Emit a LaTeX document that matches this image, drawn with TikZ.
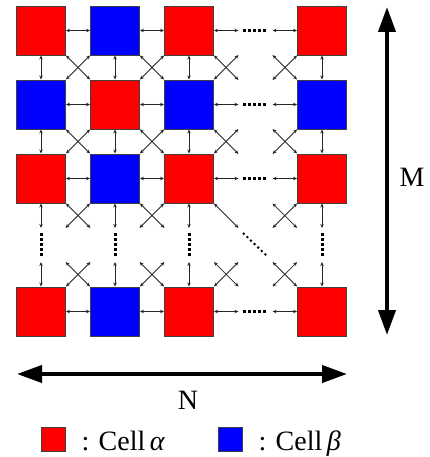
\documentclass[tikz,border=0pt]{standalone}
\usepackage{fontspec}
\setmainfont{Liberation Serif}
\usetikzlibrary{arrows.meta}
\begin{document}
\begin{tikzpicture}[x=1pt,y=-1pt,
 cell/.style={draw=black!75,line width=0.9pt,minimum size=49pt,inner sep=0pt},
 ra/.style={cell,fill=red}, bl/.style={cell,fill=blue},
 link/.style={draw=black!85,line width=0.8pt,{Stealth[length=4pt,width=3.5pt]}-{Stealth[length=4pt,width=3.5pt]}},
 dotsln/.style={line width=3pt,dash pattern=on 3pt off 2pt},
 ddots/.style={line width=2pt,dash pattern=on 2pt off 3pt},
 big/.style={line width=4pt,{Triangle[length=25pt,width=17pt]}-{Triangle[length=25pt,width=17pt]}},
 lbl/.style={font=\fontsize{28}{32}\selectfont}]
\useasboundingbox (0,0) rectangle (429,457);
% cells
\node[ra] (c11) at (41,30.5) {};
\node[bl] (c12) at (115,30.5) {};
\node[ra] (c13) at (189,30.5) {};
\node[ra] (c14) at (322,30.5) {};
\node[bl] (c21) at (41,104.5) {};
\node[ra] (c22) at (115,104.5) {};
\node[bl] (c23) at (189,104.5) {};
\node[bl] (c24) at (322,104.5) {};
\node[ra] (c31) at (41,178.5) {};
\node[bl] (c32) at (115,178.5) {};
\node[ra] (c33) at (189,178.5) {};
\node[ra] (c34) at (322,178.5) {};
\node[ra] (c41) at (41,311.5) {};
\node[bl] (c42) at (115,311.5) {};
\node[ra] (c43) at (189,311.5) {};
\node[ra] (c44) at (322,311.5) {};
% horizontal links and dots
\foreach \r in {1,2,3,4} {
  \draw[link] (c\r1.east) -- (c\r2.west);
  \draw[link] (c\r2.east) -- (c\r3.west);
  \coordinate (h\r a) at ([xshift=24.5pt]c\r3.east);
  \coordinate (h\r b) at ([xshift=-24.5pt]c\r4.west);
  \draw[link] (c\r3.east) -- (h\r a);
  \draw[link] (h\r b) -- (c\r4.west);
  \draw[dotsln] ([xshift=29.5pt]c\r3.east) -- ([xshift=52.5pt]c\r3.east);
}
% vertical links
\foreach \a/\b in {1/2,2/3} {
  \foreach \c in {1,2,3,4} { \draw[link] (c\a\c.south) -- (c\b\c.north); }
  \foreach \c/\d in {1/2,2/3} {
    \draw[link] (c\a\c.south east) -- (c\b\d.north west);
    \draw[link] (c\a\d.south west) -- (c\b\c.north east);
  }
  \draw[link] (c\a3.south east) -- ++(24.5,24.5);
  \draw[link] (c\b3.north east) -- ++(24.5,-24.5);
  \draw[link] (c\a4.south west) -- ++(-24.5,24.5);
  \draw[link] (c\b4.north west) -- ++(-24.5,-24.5);
}
% rows 3 -> 4
\foreach \c in {1,2,3,4} {
  \draw[link] (c3\c.south) -- ++(0,24.5);
  \draw[link] (c4\c.north) -- ++(0,-24.5);
  \draw[dotsln] ([yshift=-29.5pt]c3\c.south) -- ([yshift=-52.5pt]c3\c.south);
}
\foreach \c/\d in {1/2,2/3} {
  \draw[link] (c3\c.south east) -- ++(24.5,24.5);
  \draw[link] (c3\d.south west) -- ++(-24.5,24.5);
  \draw[link] (c4\c.north east) -- ++(24.5,-24.5);
  \draw[link] (c4\d.north west) -- ++(-24.5,-24.5);
}
\draw[link] (c33.south east) -- ++(24.5,24.5);
\draw[link] (c34.south west) -- ++(-24.5,24.5);
\draw[link] ([xshift=-24.5pt]c34.south west) -- ++(24.5,24.5);
\draw[link] (c43.north east) -- ++(24.5,-24.5);
\draw[link] ([xshift=24.5pt]c43.north east) -- ++(-24.5,-24.5);
\draw[link] (c44.north west) -- ++(-24.5,-24.5);
\draw[link] ([xshift=-24.5pt]c44.north west) -- ++(24.5,-24.5);
\draw[ddots] (243,233) -- (267,256);
% big arrows
\coordinate (mt) at (387,7);
\coordinate (mb) at (387,335);
\draw[big] (mt) -- (mb);
\node[lbl] (M) at (412,177) {M};
\coordinate (nl) at (17,374);
\coordinate (nr) at (347,374);
\draw[big] (nl) -- (nr);
\node[lbl] (N) at (188,400) {N};
% legend
\node[cell,fill=red,minimum size=24pt] (lr) at (53,439) {};
\node[lbl,anchor=base west] (lt1) at (78,450) {: Cell\,\textit{α}};
\node[cell,fill=blue,minimum size=24pt] (lb) at (230.5,439) {};
\node[lbl,anchor=base west] (lt2) at (255,450) {: Cell\,\textit{β}};
\end{tikzpicture}
\end{document}
